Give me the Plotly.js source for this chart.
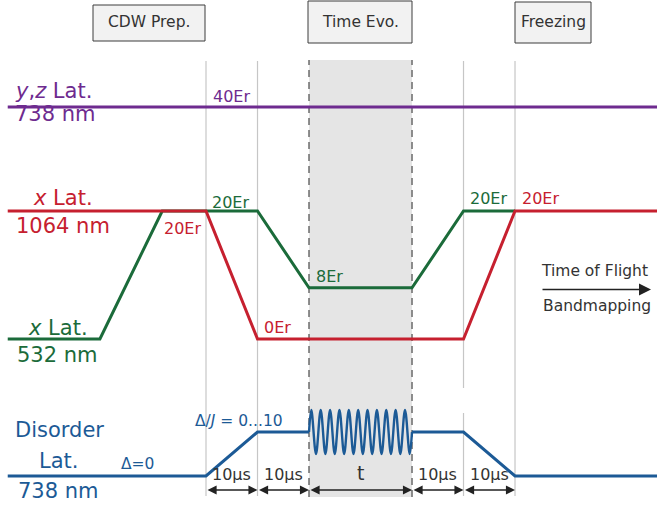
<!DOCTYPE html>
<html>
<head>
<meta charset="utf-8">
<script src="https://cdn.plot.ly/plotly-3.0.1.min.js"></script>
<style>
  html, body { margin: 0; padding: 0; background: #ffffff; }
  #chart { width: 657px; height: 506px; }
</style>
</head>
<body>
<div id="chart"></div>
<script>
// Time axis in µs, 0 = start of the 1064 nm ramp-down.
const phaseEdges = [0, 10, 20, 40, 50, 60];

// y,z lattice (738 nm) depth in Er
const yzLatT  = [-38.5, 87.6];
const yzLatEr = [40, 40];

// x lattice, 1064 nm, depth in Er
const x1064T  = [-38.5, 0, 10, 50, 60, 87.6];
const x1064Er = [20, 20, 0, 0, 20, 20];

// x lattice, 532 nm, depth in Er
const x532T  = [-38.5, -20.6, -8.5, 10, 20, 40, 50, 60];
const x532Er = [0, 0, 20, 20, 8, 8, 20, 20];

// Disorder lattice strength Δ/J (ramps and holds)
const disorderT = [-38.5, 0, 10, 20, null, 40, 50, 60, 87.6];
const disorderD = [0, 0, 10, 10, null, 10, 10, 0, 0];

// Disorder lattice during time evolution: turning points of the modulation
const waveT = [20, 20.45, 21.36, 22.27, 23.18, 24.09, 25.00, 25.91, 26.82, 27.73, 28.64,
               29.55, 30.45, 31.36, 32.27, 33.18, 34.09, 35.00, 35.91, 36.82, 37.73,
               38.64, 39.55, 40];
const waveD = [10, 15, 5, 15, 5, 15, 5, 15, 5, 15, 5,
               15, 5, 15, 5, 15, 5, 15, 5, 15, 5,
               15, 5, 10];

const phaseNames = ['CDW Prep.', 'Time Evo.', 'Freezing'];
const stepLabels = ['10µs', '10µs', 't', '10µs', '10µs'];

const PURPLE = '#6e2b8f';
const RED    = '#c6202f';
const GREEN  = '#1b6b3a';
const BLUE   = '#1c5a96';
const INK    = '#333333';
const FONT   = 'DejaVu Sans, Liberation Sans, sans-serif';

const W = 657, H = 506;
const PX = v => v / W;        // pixel column -> paper x
const PY = v => 1 - v / H;    // pixel row    -> paper y

function line(t, v, color, yaxis, width, shape) {
  return {
    x: t, y: v, yaxis: yaxis, type: 'scatter', mode: 'lines',
    line: { color: color, width: width, shape: shape || 'linear' },
    connectgaps: false, hoverinfo: 'skip', showlegend: false, cliponaxis: false
  };
}

const traces = [
  line(yzLatT, yzLatEr, PURPLE, 'y', 3),
  line(x532T, x532Er, GREEN, 'y2', 3),
  line(x1064T, x1064Er, RED, 'y2', 3),
  line(disorderT, disorderD, BLUE, 'y3', 3),
  line(waveT, waveD, BLUE, 'y3', 2.4, 'spline')
];

// ---- shapes: phase shading, guide lines, phase boxes ----
const shapes = [];
shapes.push({
  type: 'rect', xref: 'x', yref: 'paper', layer: 'below',
  x0: phaseEdges[2], x1: phaseEdges[3], y0: PY(497), y1: PY(60),
  fillcolor: '#e5e5e5', line: { width: 0 }
});
function guide(t, top, bottom, dashed) {
  shapes.push({
    type: 'line', xref: 'x', yref: 'paper', layer: 'below',
    x0: t, x1: t, y0: PY(bottom), y1: PY(top),
    line: dashed ? { color: '#6a6a6a', width: 1.5, dash: '7px,5px' }
                 : { color: '#c6c6c6', width: 1.2 }
  });
}
guide(phaseEdges[0], 61, 496, false);
guide(phaseEdges[1], 61, 496, false);
guide(phaseEdges[2], 60, 497, true);
guide(phaseEdges[3], 60, 497, true);
guide(phaseEdges[4], 61, 388, false);
guide(phaseEdges[4], 413, 496, false);
guide(phaseEdges[5], 61, 496, false);

const boxes = [[93, 205, 5, 41], [308, 412, 1, 43], [515, 591, 2, 43]];
boxes.forEach(b => shapes.push({
  type: 'rect', xref: 'paper', yref: 'paper',
  x0: PX(b[0]), x1: PX(b[1]), y0: PY(b[3]), y1: PY(b[2]),
  fillcolor: '#f2f2f2', line: { color: '#3c3c3c', width: 1 }
}));

// ---- annotations ----
const ann = [];
function label(text, x, y, color, size, xanchor) {
  ann.push({
    text: text, xref: 'paper', yref: 'paper', x: PX(x), y: PY(y),
    xanchor: xanchor || 'center', yanchor: 'middle', showarrow: false,
    font: { family: FONT, size: size, color: color }
  });
}

// phase titles
label(phaseNames[0], 149, 22, INK, 15.5);
label(phaseNames[1], 360, 22, INK, 15.5);
label(phaseNames[2], 553, 22, INK, 15.5);

// lattice names
label('<i>y</i>,<i>z</i> Lat.', 13, 91, PURPLE, 21, 'left');
label('738 nm', 13, 114, PURPLE, 21, 'left');
label('<i>x</i> Lat.', 63, 198, RED, 21);
label('1064 nm', 63, 226.5, RED, 21);
label('<i>x</i> Lat.', 58, 328, GREEN, 21);
label('532 nm', 57, 355, GREEN, 21);
label('Disorder', 59, 429.5, BLUE, 21);
label('Lat.', 58, 461, BLUE, 21);
label('738 nm', 58, 491, BLUE, 21);

// lattice depths
label(yzLatEr[0] + 'Er', 231, 96, PURPLE, 16);
label(x1064Er[1] + 'Er', 182.5, 228, RED, 16);
label(x532Er[3] + 'Er', 230, 202.5, GREEN, 16);
label(x532Er[4] + 'Er', 329, 276, GREEN, 16);
label(x1064Er[2] + 'Er', 277.5, 327, RED, 16);
label(x532Er[6] + 'Er', 488, 199, GREEN, 16);
label(x1064Er[4] + 'Er', 540, 199, RED, 16);

// disorder strength
label('Δ/<i>J</i> = ' + disorderD[1] + '...' + disorderD[2], 239, 421, BLUE, 15.5);
label('Δ=' + disorderD[0], 137.5, 464, BLUE, 15.5);

// time of flight
label('Time of Flight', 594, 271, INK, 15.5);
label('Bandmapping', 597, 306, INK, 15.5);
ann.push({
  xref: 'paper', yref: 'paper', x: PX(651), y: PY(289.5),
  axref: 'pixel', ayref: 'pixel', ax: -110, ay: 0, text: '',
  showarrow: true, arrowhead: 2, arrowsize: 1.6, arrowwidth: 1.5, arrowcolor: '#222222'
});

// step durations with double-headed arrows
for (let i = 0; i < stepLabels.length; i++) {
  const t0 = phaseEdges[i], t1 = phaseEdges[i + 1];
  const isT = stepLabels[i] === 't';
  ann.push({
    text: stepLabels[i], xref: 'x', yref: 'paper',
    x: (t0 + t1) / 2, y: PY(isT ? 473 : 474),
    xanchor: 'center', yanchor: 'middle', showarrow: false,
    font: { family: FONT, size: isT ? 19 : 16, color: INK }
  });
  ann.push({
    xref: 'x', yref: 'paper', x: t1, y: PY(490),
    axref: 'x', ayref: 'pixel', ax: t0, ay: 0, text: '',
    showarrow: true, arrowhead: 2, startarrowhead: 2, arrowside: 'end+start',
    arrowsize: 1.4, startarrowsize: 1.4, arrowwidth: 1.3, arrowcolor: '#222222', standoff: 0
  });
}

const hidden = { visible: false, showgrid: false, zeroline: false, fixedrange: true };
const layout = {
  width: W, height: H,
  margin: { l: 0, r: 0, t: 0, b: 0, pad: 0 },
  paper_bgcolor: '#ffffff', plot_bgcolor: '#ffffff',
  showlegend: false,
  xaxis: Object.assign({ range: [-40, 87.57] }, hidden),
  yaxis: Object.assign({ range: [-22.34, 56.72] }, hidden),
  yaxis2: Object.assign({ range: [-26.09, 52.97], overlaying: 'y' }, hidden),
  yaxis3: Object.assign({ range: [-6.82, 108.18], overlaying: 'y' }, hidden),
  shapes: shapes,
  annotations: ann
};

Plotly.newPlot('chart', traces, layout, { staticPlot: true, displayModeBar: false });
</script>
</body>
</html>
